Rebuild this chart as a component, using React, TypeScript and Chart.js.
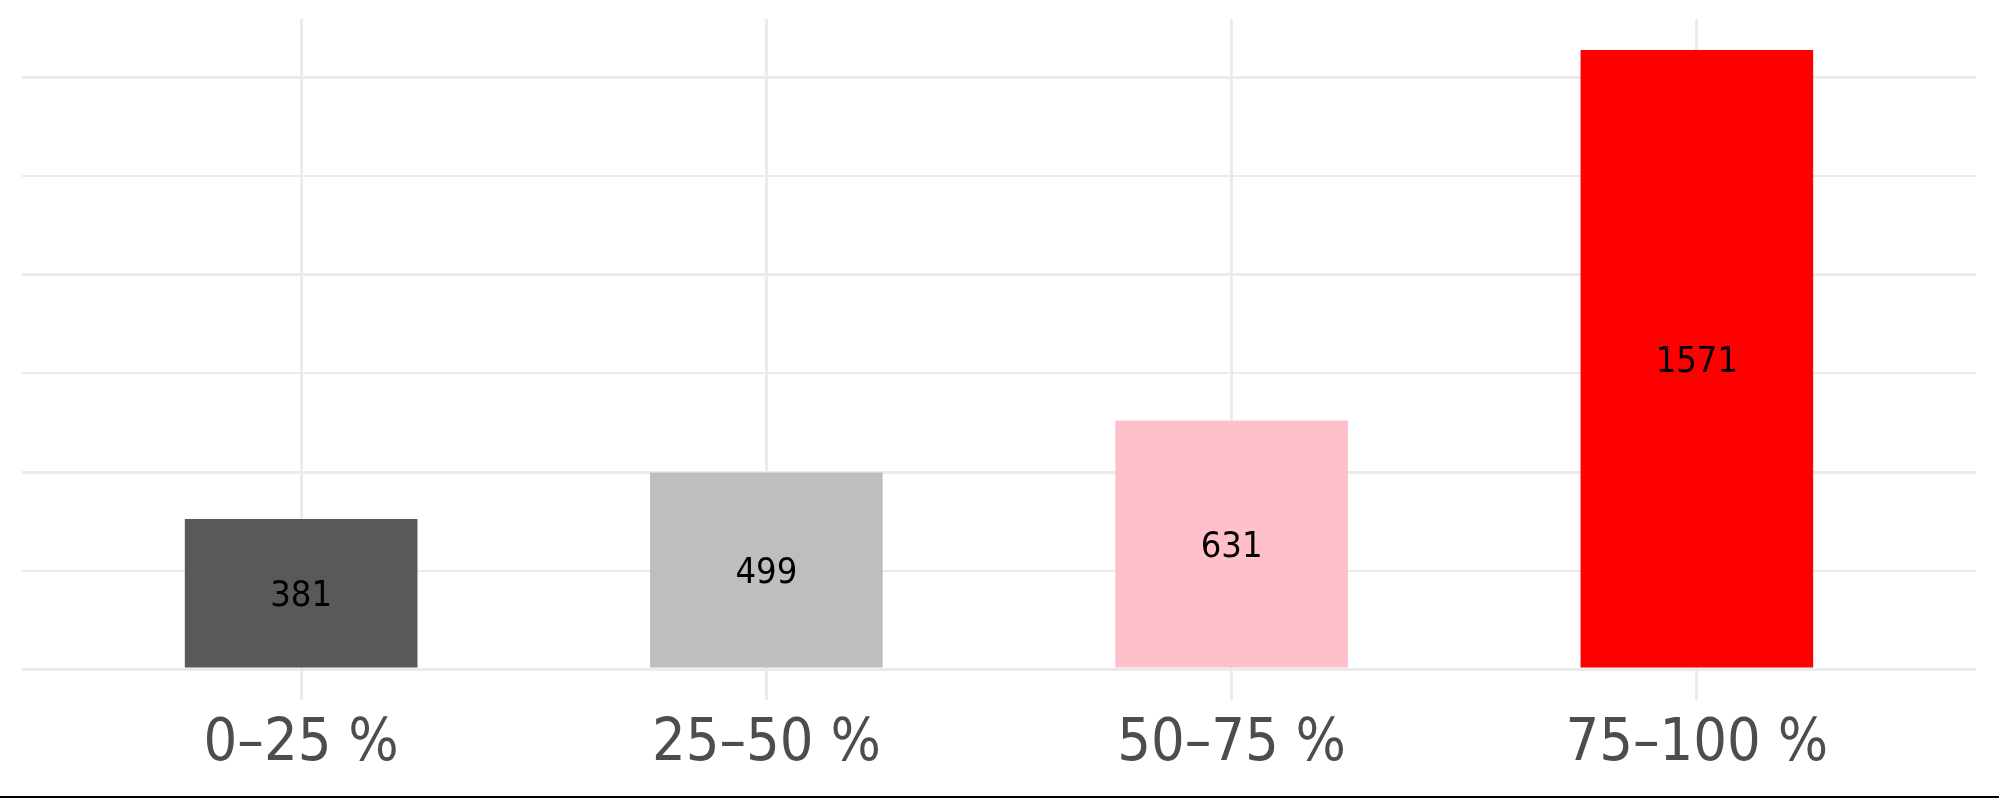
import React, { useEffect, useRef } from "react";
import { Chart, registerables } from "chart.js";

Chart.register(...registerables);

const categories = ["0–25 %", "25–50 %", "50–75 %", "75–100 %"];
const counts = [381, 499, 631, 1571];
const barColors = ["#595959", "#BEBEBE", "#FFC0CB", "#FF0000"];
const yGridValues = [0, 250, 500, 750, 1000, 1250, 1500];

const FONT = "'DejaVu Sans Condensed', 'DejaVu Sans', sans-serif";
const LABEL_SIZE = 36;

const valueLabels = {
  id: "valueLabels",
  afterDatasetsDraw(chart: any) {
    const ctx = chart.ctx;
    const meta = chart.getDatasetMeta(0);
    ctx.save();
    ctx.font = `${LABEL_SIZE}px ${FONT}`;
    ctx.fillStyle = "#000000";
    ctx.textAlign = "center";
    ctx.textBaseline = "alphabetic";
    meta.data.forEach((bar: any, i: number) => {
      const mid = (bar.y + bar.base) / 2;
      ctx.fillText(String(counts[i]), bar.x, mid + LABEL_SIZE * 0.3645);
    });
    ctx.restore();
  },
};

export default function App() {
  const canvasRef = useRef<HTMLCanvasElement | null>(null);

  useEffect(() => {
    document.body.style.margin = "0";
    const canvas = canvasRef.current;
    if (!canvas) return;
    const yMax = Math.max(...counts);
    const chart = new Chart(canvas, {
      type: "bar",
      data: {
        datasets: [
          {
            data: counts.map((v, i) => ({ x: i + 1, y: v })),
            backgroundColor: barColors,
            borderWidth: 0,
            barPercentage: 0.5,
            categoryPercentage: 1,
          },
        ],
      },
      options: {
        animation: false,
        responsive: false,
        maintainAspectRatio: false,
        devicePixelRatio: 1,
        layout: { padding: { left: 22, right: 23, top: 19, bottom: 0 } },
        plugins: {
          legend: { display: false },
          tooltip: { enabled: false },
          title: { display: false },
        },
        scales: {
          x: {
            type: "linear",
            offset: false,
            min: 0.4,
            max: categories.length + 0.6,
            afterBuildTicks: (scale: any) => {
              scale.ticks = categories.map((_, i) => ({ value: i + 1 }));
            },
            afterFit: (scale: any) => {
              scale.height = 96;
            },
            border: { display: false },
            grid: {
              offset: false,
              color: "#EBEBEB",
              lineWidth: 3,
              drawTicks: false,
              tickLength: 0,
            },
            ticks: {
              autoSkip: false,
              maxRotation: 0,
              padding: 9,
              color: "#4D4D4D",
              font: { family: FONT, size: 59 },
              callback: (value: any) => categories[Math.round(value) - 1] ?? "",
            },
          },
          y: {
            type: "linear",
            min: -yMax * 0.05,
            max: yMax * 1.05,
            afterBuildTicks: (scale: any) => {
              scale.ticks = yGridValues.map((v) => ({ value: v }));
            },
            afterFit: (scale: any) => {
              scale.width = 0;
            },
            border: { display: false },
            grid: {
              color: "#EBEBEB",
              lineWidth: (ctx: any) =>
                ctx.tick && ctx.tick.value % 500 === 0 ? 3 : 2,
              drawTicks: false,
              tickLength: 0,
            },
            ticks: { display: false },
          },
        },
      },
      plugins: [valueLabels],
    });
    return () => chart.destroy();
  }, []);

  return (
    <div style={{ width: 1999, height: 798, background: "#FFFFFF" }}>
      <canvas
        ref={canvasRef}
        width={1999}
        height={796}
        style={{ display: "block", width: 1999, height: 796 }}
      />
      <div style={{ width: 1999, height: 2, background: "#000000" }} />
    </div>
  );
}
